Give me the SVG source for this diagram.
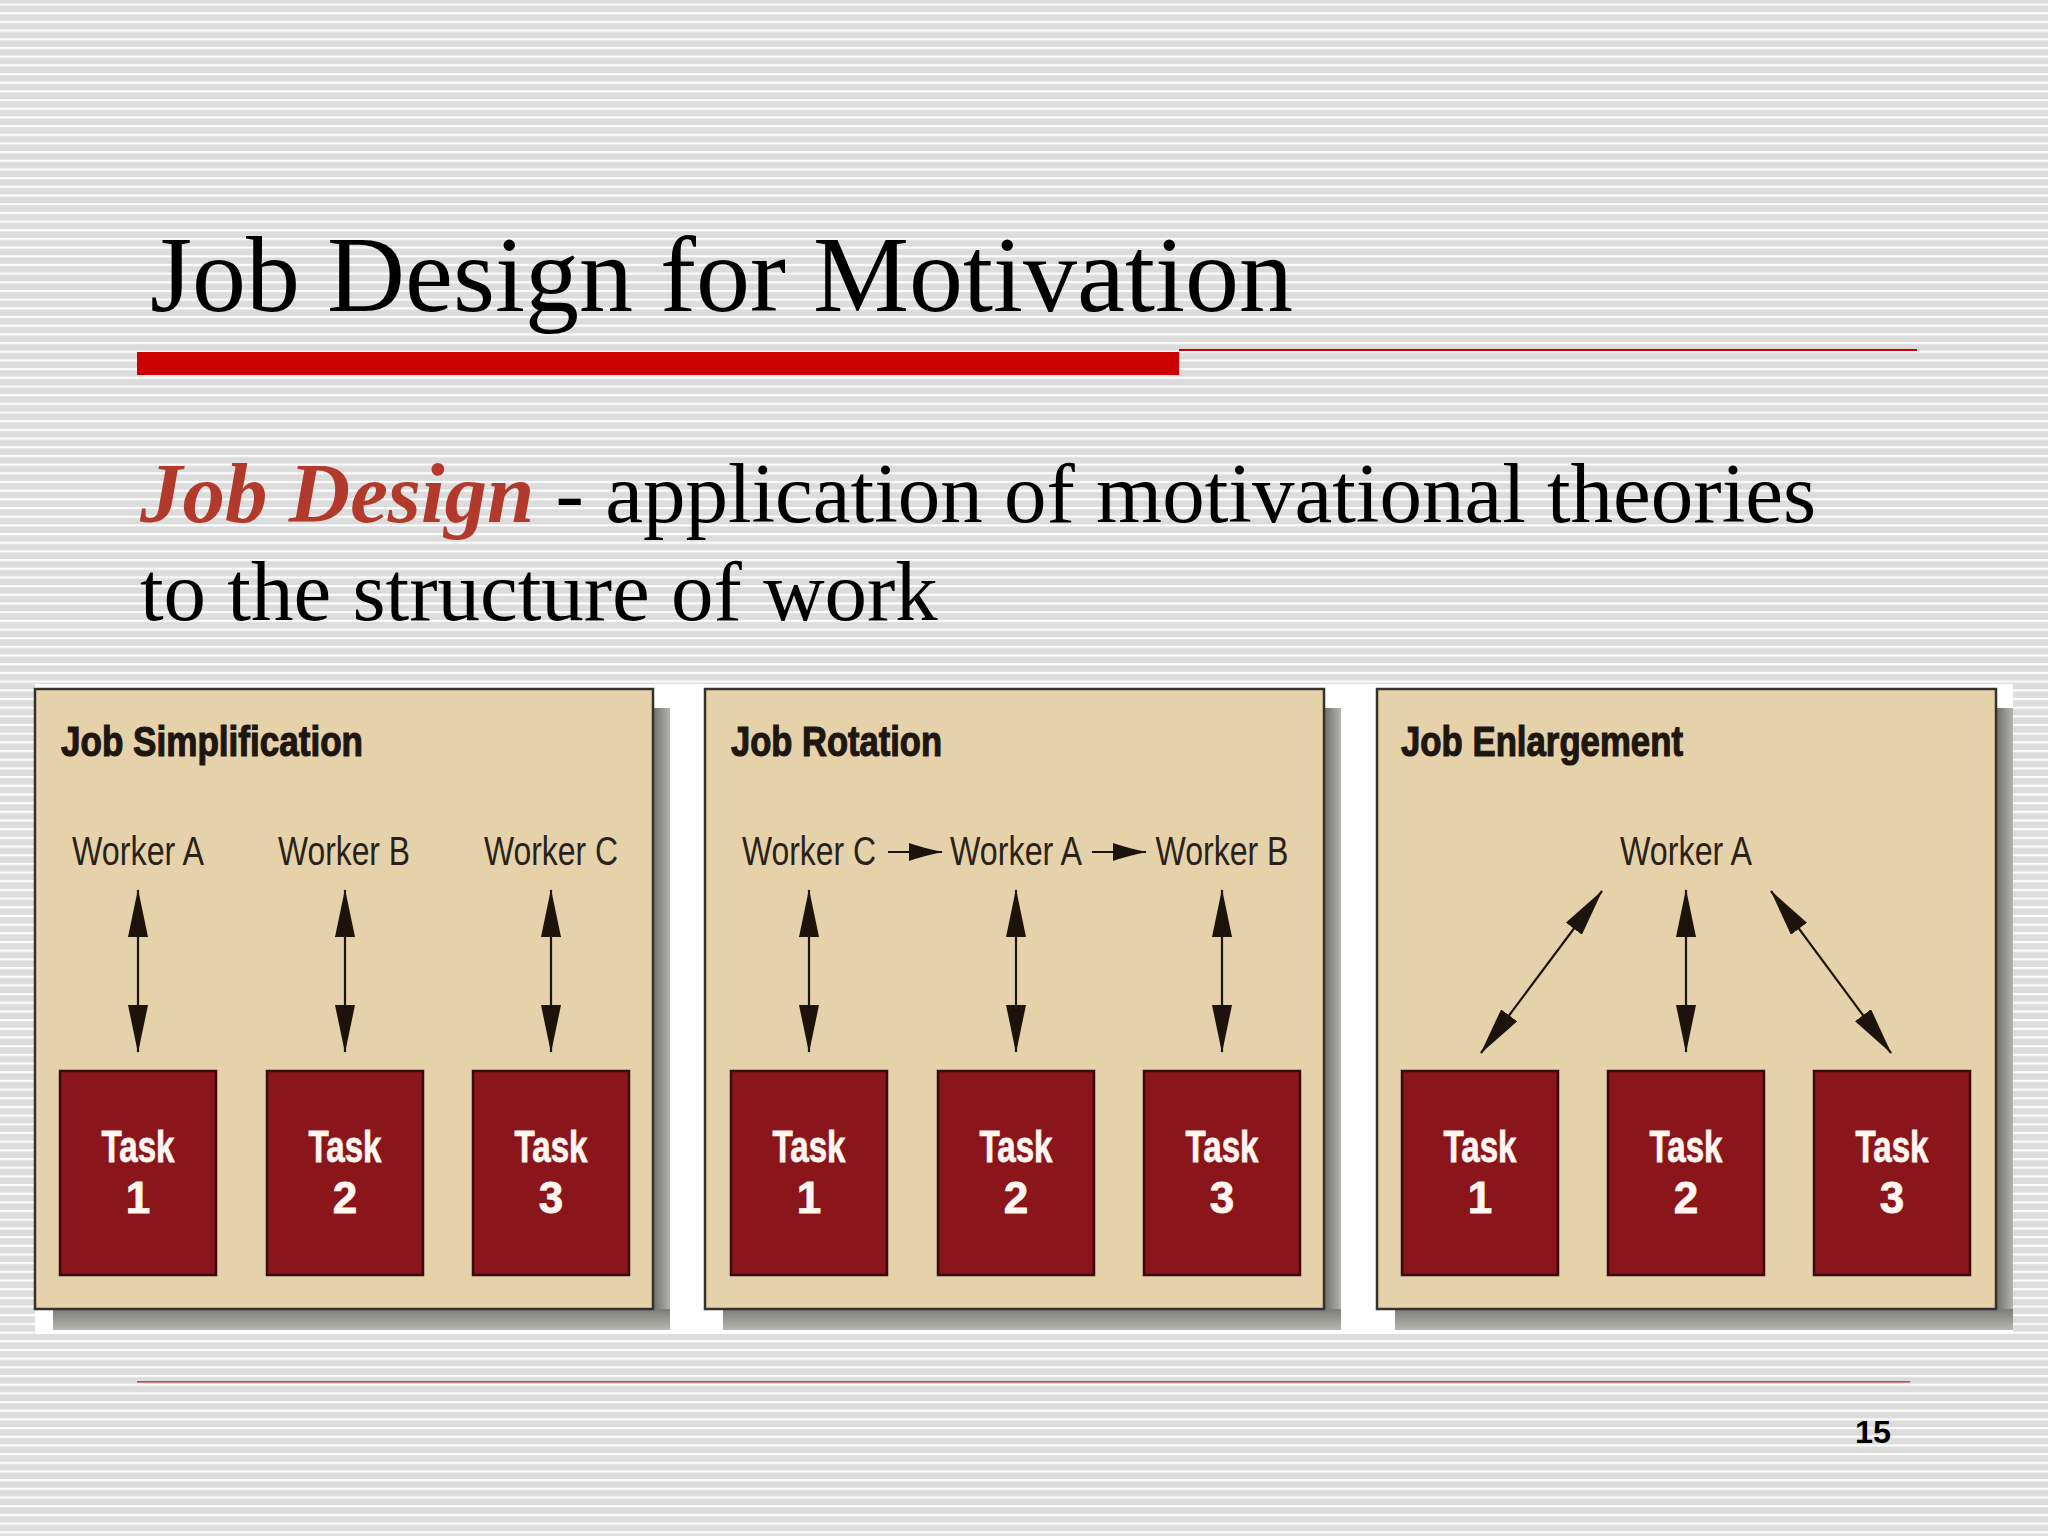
<svg xmlns="http://www.w3.org/2000/svg" width="2048" height="1536" viewBox="0 0 2048 1536">
<defs>
<pattern id="stripes" width="16" height="8.68" patternUnits="userSpaceOnUse" y="3.5">
<rect width="16" height="8.68" fill="#dcdcdc"/>
<rect width="16" height="2.2" fill="#fbfbfb"/>
</pattern>
<linearGradient id="shR" x1="0" y1="0" x2="1" y2="0">
<stop offset="0" stop-color="#6e6e6a"/><stop offset="1" stop-color="#b4b4ae"/>
</linearGradient>
<linearGradient id="shB" x1="0" y1="0" x2="0" y2="1">
<stop offset="0" stop-color="#7c7c78"/><stop offset="1" stop-color="#b8b8b2"/>
</linearGradient>
<marker id="ah" viewBox="0 0 48 20" markerWidth="48" markerHeight="20" refX="47" refY="10" orient="auto-start-reverse" markerUnits="userSpaceOnUse">
<path d="M0,0 L48,10 L0,20 z" fill="#1c140c"/>
</marker>
<marker id="ahs" viewBox="0 0 34 18" markerWidth="34" markerHeight="18" refX="33" refY="9" orient="auto" markerUnits="userSpaceOnUse">
<path d="M0,0 Q14,5 34,9 Q14,13 0,18 z" fill="#1c140c"/>
</marker>
</defs>
<style>
.panel{fill:#e6d2aa;stroke:#35312c;stroke-width:2.5}
.task{fill:#8a161b;stroke:#3a0a0a;stroke-width:2.5}
.hdr{font-family:"Liberation Sans",Arial,sans-serif;font-weight:bold;font-size:42px;fill:#1e1610;stroke:#1e1610;stroke-width:1.2}
.wk{font-family:"Liberation Sans",Arial,sans-serif;font-size:40px;fill:#2a2219;text-anchor:middle}
.tt{font-family:"Liberation Sans",Arial,sans-serif;font-weight:bold;font-size:44px;fill:#fff6f0;text-anchor:middle;stroke:#fff6f0;stroke-width:0.8}
.ar{stroke:#1c140c;stroke-width:2.2;fill:none}
</style>
<rect width="2048" height="1536" fill="url(#stripes)"/>
<g id="title">
<text x="150" y="311" font-family="Liberation Serif,'Times New Roman',serif" font-size="108" fill="#000">Job Design for Motivation</text>
<rect x="137" y="352" width="1042" height="23" fill="#cc0000"/>
<rect x="1179" y="349" width="738" height="2" fill="#cc0000"/>
</g>
<g id="subtitle" font-family="Liberation Serif,'Times New Roman',serif" font-size="85" fill="#000">
<text x="140" y="522"><tspan font-weight="bold" font-style="italic" fill="#b23a2c">Job Design</tspan> - application of motivational theories</text>
<text x="140" y="620">to the structure of work</text>
</g>
<rect x="35" y="684" width="1978" height="650" fill="#ffffff"/>
<g id="panel-simplification">
<rect x="653" y="708" width="17" height="622" fill="url(#shR)"/>
<rect x="53" y="1309" width="617" height="21" fill="url(#shB)"/>
<rect class="panel" x="35" y="689" width="618" height="620"/>
<text class="hdr" x="61" y="756" textLength="302" lengthAdjust="spacingAndGlyphs">Job Simplification</text>
<text class="wk" x="138" y="865" textLength="132" lengthAdjust="spacingAndGlyphs">Worker A</text>
<text class="wk" x="344" y="865" textLength="132" lengthAdjust="spacingAndGlyphs">Worker B</text>
<text class="wk" x="551" y="865" textLength="134" lengthAdjust="spacingAndGlyphs">Worker C</text>
<g id="s-task1"><rect class="task" x="60" y="1071" width="156" height="204"/><text class="tt" x="138" y="1162" textLength="73" lengthAdjust="spacingAndGlyphs">Task</text><text class="tt" x="138" y="1213">1</text></g>
<g id="s-task2"><rect class="task" x="267" y="1071" width="156" height="204"/><text class="tt" x="345" y="1162" textLength="73" lengthAdjust="spacingAndGlyphs">Task</text><text class="tt" x="345" y="1213">2</text></g>
<g id="s-task3"><rect class="task" x="473" y="1071" width="156" height="204"/><text class="tt" x="551" y="1162" textLength="73" lengthAdjust="spacingAndGlyphs">Task</text><text class="tt" x="551" y="1213">3</text></g>
</g>
<g id="panel-rotation">
<rect x="1324" y="708" width="17" height="622" fill="url(#shR)"/>
<rect x="723" y="1309" width="618" height="21" fill="url(#shB)"/>
<rect class="panel" x="705" y="689" width="619" height="620"/>
<text class="hdr" x="731" y="756" textLength="211" lengthAdjust="spacingAndGlyphs">Job Rotation</text>
<text class="wk" x="809" y="865" textLength="134" lengthAdjust="spacingAndGlyphs">Worker C</text>
<text class="wk" x="1016" y="865" textLength="132" lengthAdjust="spacingAndGlyphs">Worker A</text>
<text class="wk" x="1222" y="865" textLength="133" lengthAdjust="spacingAndGlyphs">Worker B</text>
<g id="r-task1"><rect class="task" x="731" y="1071" width="156" height="204"/><text class="tt" x="809" y="1162" textLength="73" lengthAdjust="spacingAndGlyphs">Task</text><text class="tt" x="809" y="1213">1</text></g>
<g id="r-task2"><rect class="task" x="938" y="1071" width="156" height="204"/><text class="tt" x="1016" y="1162" textLength="73" lengthAdjust="spacingAndGlyphs">Task</text><text class="tt" x="1016" y="1213">2</text></g>
<g id="r-task3"><rect class="task" x="1144" y="1071" width="156" height="204"/><text class="tt" x="1222" y="1162" textLength="73" lengthAdjust="spacingAndGlyphs">Task</text><text class="tt" x="1222" y="1213">3</text></g>
</g>
<g id="panel-enlargement">
<rect x="1996" y="708" width="17" height="622" fill="url(#shR)"/>
<rect x="1395" y="1309" width="618" height="21" fill="url(#shB)"/>
<rect class="panel" x="1377" y="689" width="619" height="620"/>
<text class="hdr" x="1401" y="756" textLength="282" lengthAdjust="spacingAndGlyphs">Job Enlargement</text>
<text class="wk" x="1686" y="865" textLength="132" lengthAdjust="spacingAndGlyphs">Worker A</text>
<g id="e-task1"><rect class="task" x="1402" y="1071" width="156" height="204"/><text class="tt" x="1480" y="1162" textLength="73" lengthAdjust="spacingAndGlyphs">Task</text><text class="tt" x="1480" y="1213">1</text></g>
<g id="e-task2"><rect class="task" x="1608" y="1071" width="156" height="204"/><text class="tt" x="1686" y="1162" textLength="73" lengthAdjust="spacingAndGlyphs">Task</text><text class="tt" x="1686" y="1213">2</text></g>
<g id="e-task3"><rect class="task" x="1814" y="1071" width="156" height="204"/><text class="tt" x="1892" y="1162" textLength="73" lengthAdjust="spacingAndGlyphs">Task</text><text class="tt" x="1892" y="1213">3</text></g>
</g>
<g id="connectors">
<line class="ar" x1="138" y1="890" x2="138" y2="1052" marker-start="url(#ah)" marker-end="url(#ah)"/>
<line class="ar" x1="345" y1="890" x2="345" y2="1052" marker-start="url(#ah)" marker-end="url(#ah)"/>
<line class="ar" x1="551" y1="890" x2="551" y2="1052" marker-start="url(#ah)" marker-end="url(#ah)"/>
<line class="ar" x1="809" y1="890" x2="809" y2="1052" marker-start="url(#ah)" marker-end="url(#ah)"/>
<line class="ar" x1="1016" y1="890" x2="1016" y2="1052" marker-start="url(#ah)" marker-end="url(#ah)"/>
<line class="ar" x1="1222" y1="890" x2="1222" y2="1052" marker-start="url(#ah)" marker-end="url(#ah)"/>
<line class="ar" x1="888" y1="852" x2="942" y2="852" stroke-width="3" marker-end="url(#ahs)"/>
<line class="ar" x1="1092" y1="852" x2="1146" y2="852" stroke-width="3" marker-end="url(#ahs)"/>
<line class="ar" x1="1602" y1="891" x2="1481" y2="1053" marker-start="url(#ah)" marker-end="url(#ah)"/>
<line class="ar" x1="1686" y1="890" x2="1686" y2="1052" marker-start="url(#ah)" marker-end="url(#ah)"/>
<line class="ar" x1="1771" y1="891" x2="1891" y2="1053" marker-start="url(#ah)" marker-end="url(#ah)"/>
</g>
<g id="footer">
<rect x="137" y="1381" width="1773" height="1.6" fill="#cc4444"/>
<text x="1873" y="1443" font-family="Liberation Sans,Arial,sans-serif" font-weight="bold" font-size="32" fill="#000" text-anchor="middle" textLength="36" lengthAdjust="spacingAndGlyphs">15</text>
</g>
</svg>
